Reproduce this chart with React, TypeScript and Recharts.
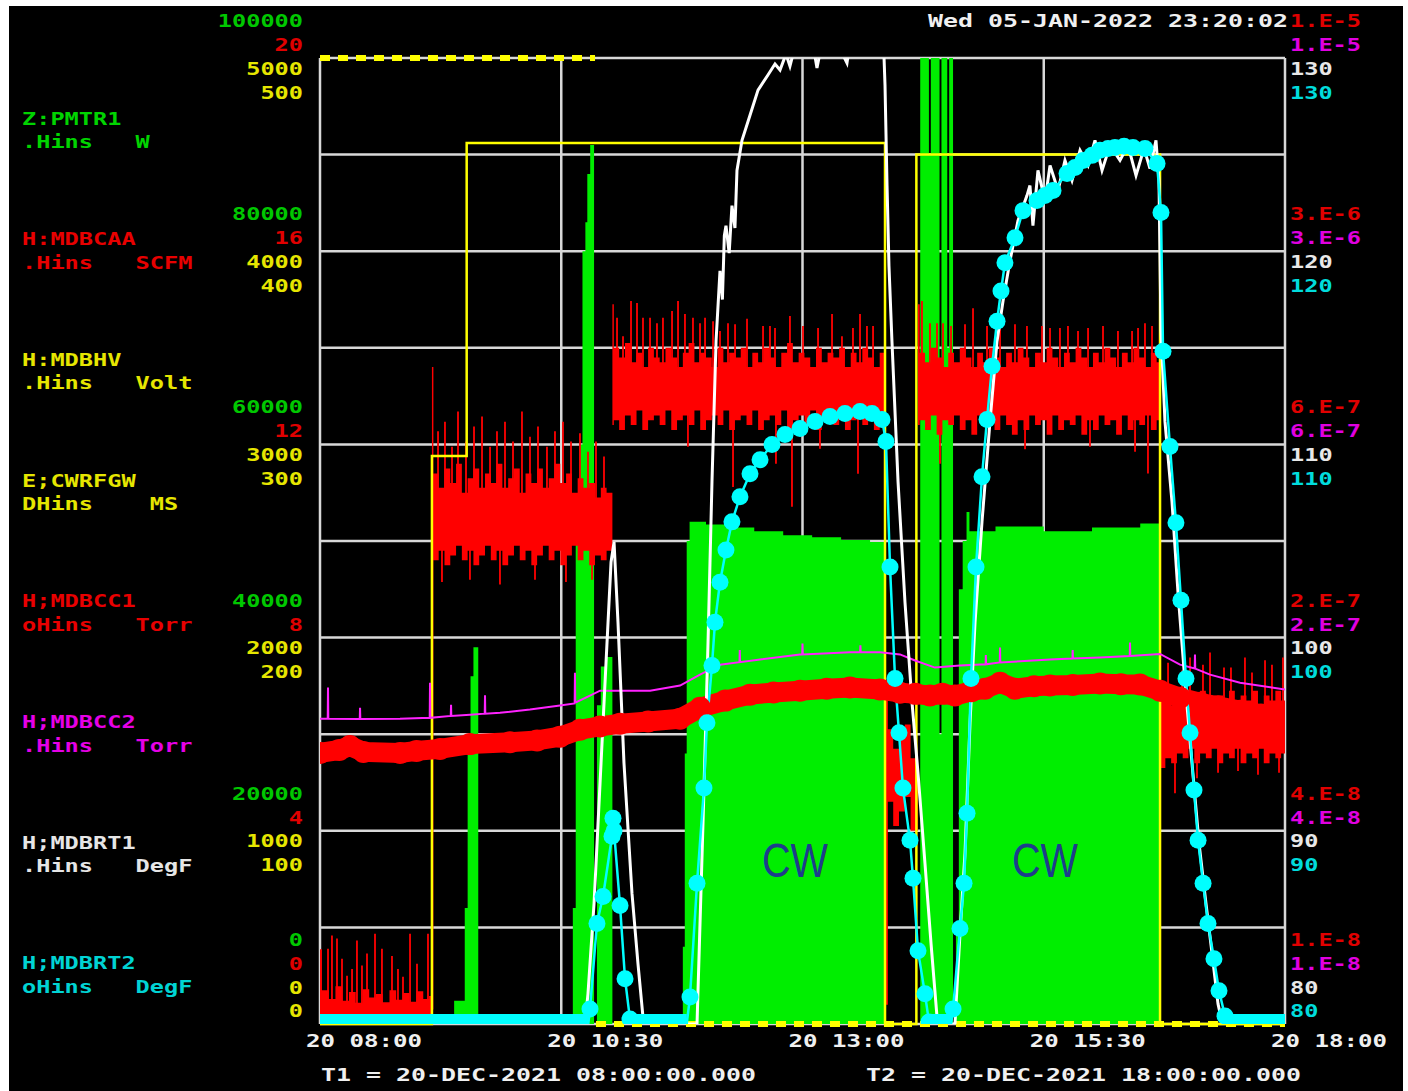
import React from 'react';
import { ComposedChart, Area, Line, XAxis, YAxis, CartesianGrid } from 'recharts';

// ---------- axis ticks / labels ----------
const timeTicks = [8, 10.5, 13, 15.5, 18];
const timeTickLabels = ['20 08:00', '20 10:30', '20 13:00', '20 15:30', '20 18:00'];
const powerGrid = [0, 10000, 20000, 30000, 40000, 50000, 60000, 70000, 80000, 90000, 100000];
const powerTickLabels = ['0', '20000', '40000', '60000', '80000', '100000'];
const caaTickLabels = ['0', '4', '8', '12', '16', '20'];
const hvTickLabels = ['0', '1000', '2000', '3000', '4000', '5000'];
const rfTickLabels = ['0', '100', '200', '300', '400', '500'];
const torrTickLabels = ['1.E-8', '4.E-8', '2.E-7', '6.E-7', '3.E-6', '1.E-5'];
const tempTicks = [80, 90, 100, 110, 120, 130];
const tempTickLabels = ['80', '90', '100', '110', '120', '130'];

const legendNames = ['Z:PMTR1', 'H:MDBCAA', 'H:MDBHV', 'E;CWRFGW', 'H;MDBCC1', 'H;MDBCC2', 'H;MDBRT1', 'H;MDBRT2'];
const legendUnits = ['.Hins   W', '.Hins   SCFM', '.Hins   Volt', 'DHins    MS', 'oHins   Torr', '.Hins   Torr', '.Hins   DegF', 'oHins   DegF'];
const legendColors = ['#00d400', '#e80000', '#e6e600', '#e6e600', '#e80000', '#e600e6', '#e6e6e6', '#00d4d4'];
const dateText = 'Wed 05-JAN-2022 23:20:02';
const t1Text = 'T1 = 20-DEC-2021 08:00:00.000';
const t2Text = 'T2 = 20-DEC-2021 18:00:00.000';
const cwLabel = 'CW';

// ---------- series (time in hours of 20-Dec-2021) ----------
// Z:PMTR1 forward power, W
const pmtr: [number, number][] = [
  [8.0, 0], [9.39, 2400], [9.50, 12000], [9.53, 30000], [9.56, 36000], [9.59, 39000], [9.64, 0],
  [10.62, 12000], [10.65, 50000], [10.69, 60000], [10.72, 80000], [10.75, 83000], [10.77, 88000], [10.80, 91000],
  [10.84, 0], [10.87, 33000], [10.91, 37000], [10.96, 38000], [11.03, 0],
  [11.76, 8000], [11.78, 28000], [11.80, 50000], [11.83, 52000], [12.0, 51700], [12.2, 51400], [12.5, 51000],
  [12.8, 50600], [13.1, 50400], [13.4, 50100], [13.7, 49900], [13.855, 0],
  [14.22, 100000], [14.31, 90000], [14.33, 100000], [14.42, 30000], [14.44, 100000], [14.50, 70000], [14.52, 100000],
  [14.56, 0], [14.59, 10000], [14.62, 45000], [14.66, 50000], [14.70, 53000], [14.73, 51000], [15.0, 51500],
  [15.5, 51000], [16.0, 51400], [16.5, 51800], [16.70, 0], [18.0, 0],
];

// H:MDBCAA flow, SCFM : [t, low, high] envelope of the noisy trace
const caaBand: [number, number, number][] = [
  [8.00, 0.1, 1.55], [8.02, 0.1, 0.70], [8.09, 0.1, 0.52], [8.16, 0.1, 0.78], [8.23, 0.1, 0.48], [8.30, 0.1, 0.66],
  [8.37, 0.1, 0.44], [8.44, 0.1, 0.72], [8.51, 0.1, 0.55], [8.58, 0.1, 0.62], [8.65, 0.1, 0.45], [8.72, 0.1, 0.70],
  [8.79, 0.1, 0.50], [8.86, 0.1, 0.64], [8.93, 0.1, 0.46], [9.00, 0.1, 0.68], [9.07, 0.1, 0.52], [9.13, 0.1, 0.58],
  [9.16, 0.3, 13.6], [9.175, 9.6, 11.4], [9.23, 9.8, 11.1], [9.29, 9.5, 11.5], [9.35, 9.7, 11.2], [9.41, 9.9, 11.6],
  [9.47, 9.6, 11.0], [9.53, 9.8, 11.3], [9.59, 9.5, 11.5], [9.65, 9.7, 11.1], [9.71, 9.9, 11.4], [9.77, 9.6, 11.2],
  [9.83, 9.8, 11.6], [9.89, 9.5, 11.1], [9.95, 9.7, 11.3], [10.01, 9.9, 11.5], [10.07, 9.6, 11.0], [10.13, 9.8, 11.4],
  [10.19, 9.5, 11.2], [10.25, 9.7, 11.5], [10.31, 9.9, 11.1], [10.37, 9.6, 11.3], [10.43, 9.8, 11.6], [10.49, 9.5, 11.2],
  [10.55, 9.7, 11.4], [10.61, 9.9, 11.0], [10.67, 9.6, 11.3], [10.73, 9.8, 11.1], [10.79, 9.5, 11.2], [10.85, 9.7, 10.9],
  [10.91, 9.6, 11.1], [10.97, 9.8, 11.0],
  [11.03, 12.4, 14.9], [11.045, 12.5, 14.0], [11.10, 12.3, 13.8], [11.16, 12.6, 14.1], [11.22, 12.4, 13.7], [11.28, 12.7, 13.9],
  [11.34, 12.3, 13.6], [11.40, 12.5, 14.0], [11.46, 12.6, 13.8], [11.52, 12.4, 13.7], [11.58, 12.7, 14.0], [11.64, 12.3, 13.8],
  [11.70, 12.5, 13.6], [11.76, 12.6, 13.9], [11.82, 12.4, 14.1], [11.88, 12.7, 13.7], [11.94, 12.3, 13.9], [12.00, 12.5, 13.8],
  [12.06, 12.6, 13.6], [12.12, 12.4, 14.0], [12.18, 12.7, 13.7], [12.24, 12.3, 13.9], [12.30, 12.5, 13.8], [12.36, 12.6, 14.0],
  [12.42, 12.4, 13.6], [12.48, 12.7, 13.9], [12.54, 12.3, 13.7], [12.60, 12.5, 14.0], [12.66, 12.6, 13.8], [12.72, 12.4, 13.6],
  [12.78, 12.7, 13.9], [12.84, 12.3, 14.1], [12.90, 12.5, 13.7], [12.96, 12.6, 13.9], [13.02, 12.4, 13.8], [13.08, 12.7, 13.6],
  [13.14, 12.3, 14.0], [13.20, 12.5, 13.7], [13.26, 12.6, 13.9], [13.32, 12.4, 13.8], [13.38, 12.7, 14.0], [13.44, 12.3, 13.6],
  [13.50, 12.5, 13.9], [13.56, 12.6, 13.7], [13.62, 12.4, 14.0], [13.68, 12.7, 13.8], [13.74, 12.3, 13.6], [13.80, 12.5, 13.9],
  [13.855, 0.4, 6.8], [13.885, 4.6, 6.1], [13.94, 4.1, 5.7], [14.00, 4.4, 5.9], [14.06, 4.7, 6.2], [14.12, 4.0, 5.5],
  [14.197, 12.4, 14.9], [14.215, 12.5, 13.9], [14.27, 12.3, 13.7], [14.33, 12.6, 14.0], [14.39, 12.2, 13.8], [14.45, 12.5, 13.6],
  [14.51, 12.4, 13.9], [14.57, 12.6, 13.7], [14.63, 12.3, 14.0], [14.69, 12.5, 13.8], [14.75, 12.2, 13.6], [14.81, 12.6, 13.9],
  [14.87, 12.4, 13.7], [14.93, 12.5, 14.0], [14.99, 12.3, 13.8], [15.05, 12.6, 13.6], [15.11, 12.4, 13.9], [15.17, 12.2, 13.7],
  [15.23, 12.5, 14.0], [15.29, 12.3, 13.8], [15.35, 12.6, 13.6], [15.41, 12.4, 13.9], [15.47, 12.5, 13.7], [15.53, 12.2, 14.0],
  [15.59, 12.6, 13.8], [15.65, 12.3, 13.6], [15.71, 12.5, 13.9], [15.77, 12.4, 13.7], [15.83, 12.6, 14.0], [15.89, 12.2, 13.8],
  [15.95, 12.5, 13.6], [16.01, 12.3, 13.9], [16.07, 12.6, 13.7], [16.13, 12.4, 14.0], [16.19, 12.5, 13.8], [16.25, 12.2, 13.6],
  [16.31, 12.6, 13.9], [16.37, 12.3, 13.7], [16.43, 12.5, 14.0], [16.49, 12.4, 13.8], [16.55, 12.6, 13.6], [16.61, 12.3, 13.9],
  [16.67, 12.5, 13.7],
  [16.705, 5.3, 7.0], [16.76, 5.5, 6.8], [16.82, 5.4, 6.6], [16.88, 5.6, 6.9], [16.94, 5.5, 6.7], [17.00, 5.7, 6.8],
  [17.06, 5.4, 6.6], [17.12, 5.6, 6.9], [17.18, 5.5, 6.7], [17.24, 5.7, 6.6], [17.30, 5.4, 6.8], [17.36, 5.6, 6.7],
  [17.42, 5.5, 6.9], [17.48, 5.7, 6.6], [17.54, 5.4, 6.8], [17.60, 5.6, 6.7], [17.66, 5.5, 6.9], [17.72, 5.7, 6.6],
  [17.78, 5.4, 6.8], [17.84, 5.6, 6.7], [17.90, 5.5, 6.9], [17.96, 5.6, 6.7], [18.00, 5.6, 6.7],
];

// H:MDBCAA single-sample spikes : [t, from, tip]
const caaSpikes: [number, number, number][] = [
  [8.083, 0.4, 1.56], [8.124, 0.4, 1.83], [8.176, 0.4, 1.77], [8.228, 0.4, 1.35], [8.280, 0.4, 1.00], [8.332, 0.4, 1.14],
  [8.383, 0.4, 1.73], [8.435, 0.4, 1.21], [8.487, 0.4, 1.46], [8.570, 0.4, 1.87], [8.642, 0.4, 1.56], [8.746, 0.4, 1.41],
  [8.808, 0.4, 1.14], [8.860, 0.4, 0.98], [8.933, 0.4, 1.87], [9.005, 0.4, 1.25], [9.119, 0.4, 1.87],
  [9.223, 10.4, 12.27], [9.295, 10.4, 12.47], [9.368, 10.4, 11.95], [9.430, 10.4, 12.68], [9.513, 10.4, 12.06],
  [9.596, 10.4, 12.37], [9.679, 10.4, 12.58], [9.762, 10.4, 11.95], [9.834, 10.4, 12.27], [9.917, 10.4, 12.47],
  [10.000, 10.4, 12.06], [10.093, 10.4, 12.68], [10.176, 10.4, 12.16], [10.259, 10.4, 12.37], [10.352, 10.4, 11.95],
  [10.435, 10.4, 12.27], [10.518, 10.4, 12.47], [10.601, 10.4, 12.06], [10.694, 10.4, 12.23], [10.777, 10.4, 11.85],
  [10.860, 10.4, 12.06], [10.943, 10.4, 11.75],
  [9.264, 10.4, 9.15], [9.554, 10.4, 9.2], [9.865, 10.4, 9.1], [10.228, 10.4, 9.2], [10.549, 10.4, 9.15], [10.819, 10.4, 9.2],
  [11.078, 13.1, 14.62], [11.140, 13.1, 14.24], [11.223, 13.1, 14.97], [11.285, 13.1, 14.93], [11.347, 13.1, 14.62],
  [11.420, 13.1, 14.62], [11.492, 13.1, 14.51], [11.554, 13.1, 14.62], [11.648, 13.1, 14.76], [11.710, 13.1, 14.97],
  [11.782, 13.1, 14.70], [11.865, 13.1, 14.62], [11.938, 13.1, 14.51], [11.990, 13.1, 14.62], [12.073, 13.1, 14.55],
  [12.145, 13.1, 14.35], [12.228, 13.1, 14.51], [12.301, 13.1, 14.49], [12.425, 13.1, 14.60], [12.591, 13.1, 14.45],
  [12.663, 13.1, 14.45], [12.715, 13.1, 14.41], [12.870, 13.1, 14.66], [13.005, 13.1, 14.45], [13.161, 13.1, 14.41],
  [13.306, 13.1, 14.70], [13.409, 13.1, 14.24], [13.523, 13.1, 14.41], [13.596, 13.1, 14.70], [13.668, 13.1, 14.45],
  [13.731, 13.1, 14.45],
  [11.813, 13.1, 11.95], [12.280, 13.1, 11.12], [12.725, 13.1, 11.60], [12.891, 13.1, 10.71], [13.181, 13.1, 11.91], [13.575, 13.1, 11.39],
  [14.238, 13.1, 14.97], [14.321, 13.1, 14.51], [14.394, 13.1, 14.51], [14.456, 13.1, 14.51], [14.539, 13.1, 14.45],
  [14.684, 13.1, 14.49], [14.767, 13.1, 14.82], [14.912, 13.1, 14.45], [15.047, 13.1, 14.60], [15.202, 13.1, 14.49],
  [15.326, 13.1, 14.45], [15.482, 13.1, 14.45], [15.565, 13.1, 14.41], [15.668, 13.1, 14.41], [15.751, 13.1, 14.45],
  [15.855, 13.1, 14.35], [15.959, 13.1, 14.41], [16.114, 13.1, 14.45], [16.269, 13.1, 14.35], [16.415, 13.1, 14.35],
  [16.477, 13.1, 14.41], [16.549, 13.1, 14.51], [16.622, 13.1, 14.45],
  [14.425, 13.1, 11.6], [15.306, 13.1, 11.9], [15.979, 13.1, 11.95], [16.446, 13.1, 11.85], [16.580, 13.1, 11.4],
  [16.788, 6.2, 7.48], [16.860, 6.2, 4.78], [16.933, 6.2, 7.32], [17.016, 6.2, 7.59], [17.088, 6.2, 5.09], [17.150, 6.2, 7.44],
  [17.223, 6.2, 7.69], [17.306, 6.2, 5.20], [17.368, 6.2, 7.38], [17.440, 6.2, 7.38], [17.513, 6.2, 5.24], [17.585, 6.2, 7.59],
  [17.658, 6.2, 7.28], [17.720, 6.2, 5.16], [17.793, 6.2, 7.53], [17.865, 6.2, 7.44], [17.938, 6.2, 5.20], [17.979, 6.2, 7.59],
];

// H:MDBHV, Volt
const hv: [number, number][] = [[8, 0], [9.16, 2940], [9.52, 4560], [13.855, 0], [14.18, 4500], [16.705, 0], [18, 0]];

// E;CWRFGW, MS
const rf: [number, number | null][] = [[8, 500], [10.85, 500], [10.85, null], [10.86, 0], [18, 0]];

// H;MDBCC1, Torr
const cc1: [number, number][] = [
  [8.0, 6.95e-8], [8.2, 7.1e-8], [8.31, 7.3e-8], [8.45, 7.0e-8], [8.83, 6.95e-8], [9.0, 7.05e-8], [9.244, 7.15e-8],
  [9.554, 7.4e-8], [9.969, 7.5e-8], [10.25, 7.6e-8], [10.487, 7.8e-8], [10.694, 8.2e-8], [10.9, 8.4e-8], [11.109, 8.56e-8],
  [11.4, 8.7e-8], [11.731, 8.87e-8], [11.938, 9.6e-8], [12.2, 1.01e-7], [12.456, 1.054e-7], [12.7, 1.07e-7],
  [12.974, 1.084e-7], [13.25, 1.10e-7], [13.492, 1.109e-7], [13.803, 1.093e-7], [14.01, 1.069e-7], [14.17, 1.06e-7],
  [14.321, 1.047e-7], [14.45, 1.06e-7], [14.58, 1.047e-7], [14.75, 1.08e-7], [14.891, 1.10e-7], [15.047, 1.148e-7],
  [15.202, 1.10e-7], [15.4, 1.12e-7], [15.565, 1.125e-7], [15.8, 1.13e-7], [16.083, 1.141e-7], [16.3, 1.135e-7],
  [16.497, 1.133e-7], [16.705, 1.084e-7], [16.912, 1.031e-7], [17.119, 9.95e-8], [17.3, 9.7e-8], [17.534, 9.4e-8],
  [17.75, 9.15e-8], [18.0, 8.93e-8],
];

// H;MDBCC2, Torr
const cc2: [number, number][] = [
  [8.0, 8.87e-8], [8.080, 8.87e-8], [8.083, 1.109e-7], [8.086, 8.87e-8], [8.412, 8.85e-8], [8.415, 9.6e-8], [8.418, 8.85e-8],
  [8.829, 8.87e-8], [9.137, 8.93e-8], [9.140, 1.148e-7], [9.143, 8.93e-8], [9.355, 9.05e-8], [9.358, 9.8e-8], [9.361, 9.05e-8],
  [9.554, 9.13e-8], [9.707, 9.2e-8], [9.710, 1.05e-7], [9.713, 9.2e-8], [9.865, 9.26e-8], [10.176, 9.47e-8], [10.487, 9.75e-8],
  [10.639, 9.9e-8], [10.642, 1.233e-7], [10.645, 9.95e-8], [10.798, 1.047e-7], [10.902, 1.084e-7], [11.42, 1.084e-7],
  [11.731, 1.125e-7], [11.938, 1.216e-7], [12.145, 1.306e-7], [12.347, 1.33e-7], [12.350, 1.45e-7], [12.353, 1.33e-7],
  [12.56, 1.355e-7], [12.974, 1.405e-7], [12.997, 1.405e-7], [13.0, 1.52e-7], [13.003, 1.405e-7], [13.492, 1.426e-7],
  [13.597, 1.426e-7], [13.6, 1.50e-7], [13.603, 1.426e-7], [13.803, 1.426e-7], [14.01, 1.405e-7], [14.166, 1.345e-7],
  [14.373, 1.279e-7], [14.632, 1.298e-7], [14.897, 1.31e-7], [14.9, 1.40e-7], [14.903, 1.31e-7],
  [15.044, 1.327e-7], [15.047, 1.476e-7], [15.05, 1.327e-7], [15.565, 1.355e-7], [15.797, 1.365e-7], [15.8, 1.45e-7],
  [15.803, 1.365e-7], [16.083, 1.375e-7], [16.391, 1.39e-7], [16.394, 1.531e-7], [16.397, 1.39e-7], [16.705, 1.41e-7],
  [16.912, 1.306e-7], [17.064, 1.27e-7], [17.067, 1.405e-7], [17.07, 1.27e-7], [17.223, 1.216e-7], [17.534, 1.148e-7],
  [18.0, 1.093e-7],
];

// H;MDBRT1, DegF
const rt1: [number, number][] = [
  [8.0, 80], [10.746, 80], [10.777, 81.56], [10.84, 86.24], [10.902, 92.47], [10.964, 98.71], [11.016, 103.91],
  [11.047, 104.95], [11.088, 100.79], [11.15, 93.51], [11.233, 86.76], [11.295, 83.12], [11.347, 80.36], [11.42, 80],
  [11.886, 80], [11.907, 80], [11.969, 90.4], [12.021, 99.75], [12.062, 108.07], [12.104, 115.34], [12.145, 118.98],
  [12.17, 117.5], [12.19, 120.8], [12.207, 121.32], [12.24, 119.9], [12.269, 122.36], [12.3, 121.2], [12.321, 124.18],
  [12.373, 125.74], [12.456, 127.04], [12.539, 128.34], [12.642, 129.12], [12.715, 129.69], [12.767, 129.38],
  [12.829, 130.2], [12.87, 129.58], [12.922, 130.6], [13.098, 131], [13.15, 129.48], [13.202, 130.8], [13.337, 131],
  [13.461, 129.74], [13.492, 130.8], [13.7, 131], [13.824, 130.6], [13.845, 130], [13.855, 128.6], [13.876, 123.4],
  [13.896, 119.24], [13.927, 115.34], [13.99, 108.07], [14.062, 101.83], [14.135, 96.63], [14.197, 92.99],
  [14.269, 88.32], [14.332, 84.16], [14.394, 80.36], [14.477, 80], [14.58, 80], [14.632, 84.68], [14.684, 88.84],
  [14.736, 95.59], [14.788, 100.79], [14.86, 105.99], [14.943, 111.19], [15.016, 115.34], [15.078, 117.42],
  [15.15, 119.5], [15.233, 121.58], [15.326, 122.88], [15.357, 123.4], [15.388, 121.32], [15.44, 124.18],
  [15.513, 122.62], [15.565, 124.44], [15.648, 123.14], [15.72, 124.7], [15.793, 123.66], [15.876, 125.22],
  [15.959, 124.44], [16.031, 125.74], [16.104, 124.18], [16.187, 125.48], [16.29, 124.7], [16.373, 125.48],
  [16.456, 123.92], [16.539, 125.32], [16.601, 124.28], [16.663, 125.74], [16.694, 123.66], [16.715, 115.86],
  [16.756, 111.19], [16.829, 107.03], [16.891, 102.35], [16.964, 97.67], [17.036, 93.51], [17.109, 89.36],
  [17.181, 86.24], [17.244, 83.64], [17.306, 81.04], [17.347, 80.1], [17.43, 80], [18.0, 80],
];

// H;MDBRT2, DegF
const rt2: [number, number][] = [
  [8.0, 80], [10.78, 80], [10.798, 80.78], [10.87, 85.2], [10.933, 86.6], [11.026, 89.72], [11.036, 90.65], [11.047, 90.0],
  [11.109, 86.13], [11.161, 82.34], [11.212, 80.26], [11.25, 80], [11.8, 80], [11.834, 81.4], [11.907, 87.28],
  [11.979, 92.21], [12.01, 95.59], [12.062, 98.56], [12.093, 100.79], [12.145, 102.87], [12.207, 104.53], [12.269, 105.99],
  [12.352, 107.29], [12.456, 108.48], [12.56, 109.21], [12.684, 109.99], [12.819, 110.51], [12.974, 110.82],
  [13.13, 111.19], [13.285, 111.45], [13.44, 111.6], [13.596, 111.7], [13.72, 111.6], [13.824, 111.29], [13.865, 110.15],
  [13.907, 103.65], [13.959, 97.88], [14.0, 95.07], [14.041, 92.21], [14.114, 89.51], [14.145, 87.54], [14.197, 83.79],
  [14.269, 81.56], [14.311, 80.1], [14.33, 80], [14.54, 80], [14.56, 80.78], [14.632, 84.94], [14.674, 87.28],
  [14.705, 90.91], [14.746, 97.88], [14.798, 103.65], [14.86, 108.33], [14.912, 111.29], [14.964, 114.04],
  [15.016, 116.38], [15.057, 117.94], [15.098, 119.4], [15.202, 120.7], [15.285, 122.1], [15.43, 122.62],
  [15.513, 122.88], [15.596, 123.14], [15.741, 124.02], [15.824, 124.33], [15.907, 124.7], [16.0, 124.96],
  [16.083, 125.22], [16.166, 125.32], [16.238, 125.37], [16.332, 125.43], [16.425, 125.37], [16.549, 125.32],
  [16.674, 124.54], [16.715, 122.0], [16.736, 114.82], [16.808, 109.89], [16.87, 105.94], [16.922, 101.93],
  [16.974, 97.88], [17.016, 95.07], [17.057, 92.11], [17.099, 89.51], [17.151, 87.28], [17.202, 85.2], [17.264, 83.38],
  [17.316, 81.72], [17.378, 80.42], [17.4, 80], [18.0, 80],
];

// ---------- tables built from the arrays ----------
const pmtrData = pmtr.map(([t, v]) => ({ t, v }));
const caaBandData = caaBand.map(([t, lo, hi]) => ({ t, r: [lo, hi] }));
const caaSpikeData = caaSpikes
  .slice()
  .sort((a, b) => a[0] - b[0])
  .flatMap(([t, b, tip]) => [{ t, v: b }, { t, v: tip }, { t, v: null }]);
const hvData = hv.map(([t, v]) => ({ t, v }));
const rfData = rf.map(([t, v]) => ({ t, v }));
const cc1Data = cc1.map(([t, v]) => ({ t, v }));
const cc2Data = cc2.map(([t, v]) => ({ t, v }));
const rt1Data = rt1.map(([t, v]) => ({ t, v }));
const rt2Data = rt2.map(([t, v]) => ({ t, v }));
const rt2BaseData = rt2.map(([t, v]) => ({ t, v: v === 80 ? 80 : null }));

// ---------- text helpers ----------
const FONT = '"DejaVu Sans Mono", "Liberation Mono", monospace';
const CH = 14.2;
function Txt({ x, y, s, fill, ch = CH }: any) {
  // always start-anchored; callers compute the start x
  return (
    <text
      x={x}
      y={y}
      fill={fill}
      fontFamily={FONT}
      fontSize={18}
      fontWeight="bold"
      textLength={s.length * ch}
      lengthAdjust="spacingAndGlyphs"
      textAnchor="start"
      dominantBaseline="central"
      xmlSpace="preserve"
      style={{ whiteSpace: 'pre' }}
    >
      {s}
    </text>
  );
}

const stackOffsets = [-37.5, -13.5, 10, 34];
const bottomOffsets = [-85, -61, -37, -14];
const leftColors = ['#00c800', '#e00000', '#e6e600', '#e6e600'];
const rightColors = ['#e00000', '#e000e0', '#e8e8e8', '#00dcdc'];

function LeftTick(props: any) {
  const { y, payload } = props;
  const i = powerTickLabels.indexOf(String(payload.value));
  if (i < 0) return <g />;
  const offs = i === 0 ? bottomOffsets : stackOffsets;
  const labels = [powerTickLabels[i], caaTickLabels[i], hvTickLabels[i], rfTickLabels[i]];
  const right = 303;
  return (
    <g>
      {labels.map((s, k) => (
        <Txt key={k} x={right - s.length * CH} y={y + offs[k]} s={s} fill={leftColors[k]} />
      ))}
    </g>
  );
}

function RightTick(props: any) {
  const { x, y, payload } = props;
  const i = tempTicks.indexOf(payload.value);
  if (i < 0) return <g />;
  const offs = i === 0 ? bottomOffsets : stackOffsets;
  const labels = [torrTickLabels[i], torrTickLabels[i], tempTickLabels[i], tempTickLabels[i]];
  return (
    <g>
      {labels.map((s, k) => (
        <Txt key={k} x={x + 5} y={y + offs[k]} s={s} fill={rightColors[k]} />
      ))}
    </g>
  );
}

function TimeTick(props: any) {
  const { x, y, index } = props;
  return <Txt x={x - 14} y={y + 16} s={timeTickLabels[index] ?? ''} fill="#f0f0f0" ch={14.5} />;
}

const cyanDot = (p: any) => {
  const { cx, cy, payload, index } = p;
  if (cx == null || cy == null || payload.v <= 80.05) return <g key={`cd${index}`} />;
  return <circle key={`cd${index}`} cx={cx} cy={cy} r={8.5} fill="#00ffff" />;
};

const redDot = (p: any) => {
  const { cx, cy, index } = p;
  if (cx == null || cy == null) return <g key={`rd${index}`} />;
  return <circle key={`rd${index}`} cx={cx} cy={cy} r={11} fill="#ff0000" />;
};

export default function App() {
  return (
    <div style={{ position: 'absolute', left: 0, top: 0, width: 1408, height: 1091, background: '#ffffff', overflow: 'hidden' }}>
      <div style={{ position: 'absolute', left: 9, top: 6, width: 1394, height: 1085, background: '#000000' }} />
      <div style={{ position: 'absolute', left: 0, top: 0 }}>
        <ComposedChart width={1408} height={1091} margin={{ top: 58, right: 0, bottom: 27, left: 0 }}>
          <CartesianGrid yAxisId="pw" stroke="#d8d8d8" strokeWidth={2.5} />
          <XAxis
            dataKey="t"
            type="number"
            domain={[8, 18]}
            ticks={timeTicks}
            interval={0}
            height={40}
            axisLine={false}
            tickLine={false}
            tickSize={0}
            tickMargin={0}
            tick={TimeTick}
            allowDataOverflow
          />
          <YAxis
            yAxisId="pw"
            type="number"
            domain={[0, 100000]}
            ticks={powerGrid}
            interval={0}
            width={320}
            axisLine={false}
            tickLine={false}
            tickSize={0}
            tickMargin={0}
            tick={LeftTick}
          />
          <YAxis yAxisId="caa" type="number" hide domain={[0, 20]} />
          <YAxis yAxisId="hv" type="number" hide domain={[0, 5000]} />
          <YAxis yAxisId="rf" type="number" hide domain={[0, 500]} />
          <YAxis yAxisId="cc" type="number" hide scale="log" domain={[1e-8, 1e-5]} />
          <YAxis
            yAxisId="rt1"
            orientation="right"
            type="number"
            domain={[80, 130]}
            ticks={tempTicks}
            interval={0}
            width={123}
            axisLine={false}
            tickLine={false}
            tickSize={0}
            tickMargin={0}
            tick={RightTick}
            allowDataOverflow
          />
          <YAxis yAxisId="rt2" type="number" hide domain={[80, 130]} allowDataOverflow />

          <Area yAxisId="pw" data={pmtrData} dataKey="v" type="stepAfter" stroke="none" fill="#00ee00" fillOpacity={1} isAnimationActive={false} />
          <Area yAxisId="caa" data={caaBandData} dataKey="r" type="stepAfter" stroke="none" fill="#ff0000" fillOpacity={1} isAnimationActive={false} />
          <Line yAxisId="caa" data={caaSpikeData} dataKey="v" stroke="#ff0000" strokeWidth={1.8} dot={false} connectNulls={false} isAnimationActive={false} />
          <Line yAxisId="hv" data={hvData} dataKey="v" type="stepAfter" stroke="#ffff00" strokeWidth={2.5} dot={false} isAnimationActive={false} />
          <Line yAxisId="rf" data={rfData} dataKey="v" stroke="#ffff00" strokeWidth={6} strokeDasharray="10 8" dot={false} connectNulls={false} isAnimationActive={false} />
          <Line yAxisId="cc" data={cc1Data} dataKey="v" stroke="#ff0000" strokeWidth={20} dot={redDot} isAnimationActive={false} />
          <Line yAxisId="cc" data={cc2Data} dataKey="v" stroke="#ff22ff" strokeWidth={2} dot={false} isAnimationActive={false} />
          <Line yAxisId="rt1" data={rt1Data} dataKey="v" stroke="#ffffff" strokeWidth={3} dot={false} isAnimationActive={false} />
          <Line yAxisId="rt2" data={rt2BaseData} dataKey="v" stroke="#00ffff" strokeWidth={20} dot={false} connectNulls={false} isAnimationActive={false} />
          <Line yAxisId="rt2" data={rt2Data} dataKey="v" stroke="#00ffff" strokeWidth={2.5} dot={cyanDot} isAnimationActive={false} />
        </ComposedChart>
      </div>
      <svg style={{ position: 'absolute', left: 0, top: 0, pointerEvents: 'none' }} width={1408} height={1091}>
        {legendNames.map((n, i) => (
          <g key={n}>
            <Txt x={22} y={118 + i * 120.7} s={n} fill={legendColors[i]} />
            <Txt x={22} y={141.5 + i * 120.7} s={legendUnits[i]} fill={legendColors[i]} />
          </g>
        ))}
        <Txt x={928} y={20} s={dateText} fill="#f0f0f0" ch={15} />
        <Txt x={321} y={1074} s={t1Text} fill="#f0f0f0" ch={15} />
        <Txt x={866} y={1074} s={t2Text} fill="#f0f0f0" ch={15} />
        <text x={795} y={877} fill="#1e3c8c" fontFamily='"Liberation Sans", Arial, sans-serif' fontSize={48} textAnchor="middle" textLength={66} lengthAdjust="spacingAndGlyphs">{cwLabel}</text>
        <text x={1045} y={877} fill="#1e3c8c" fontFamily='"Liberation Sans", Arial, sans-serif' fontSize={48} textAnchor="middle" textLength={66} lengthAdjust="spacingAndGlyphs">{cwLabel}</text>
      </svg>
    </div>
  );
}
